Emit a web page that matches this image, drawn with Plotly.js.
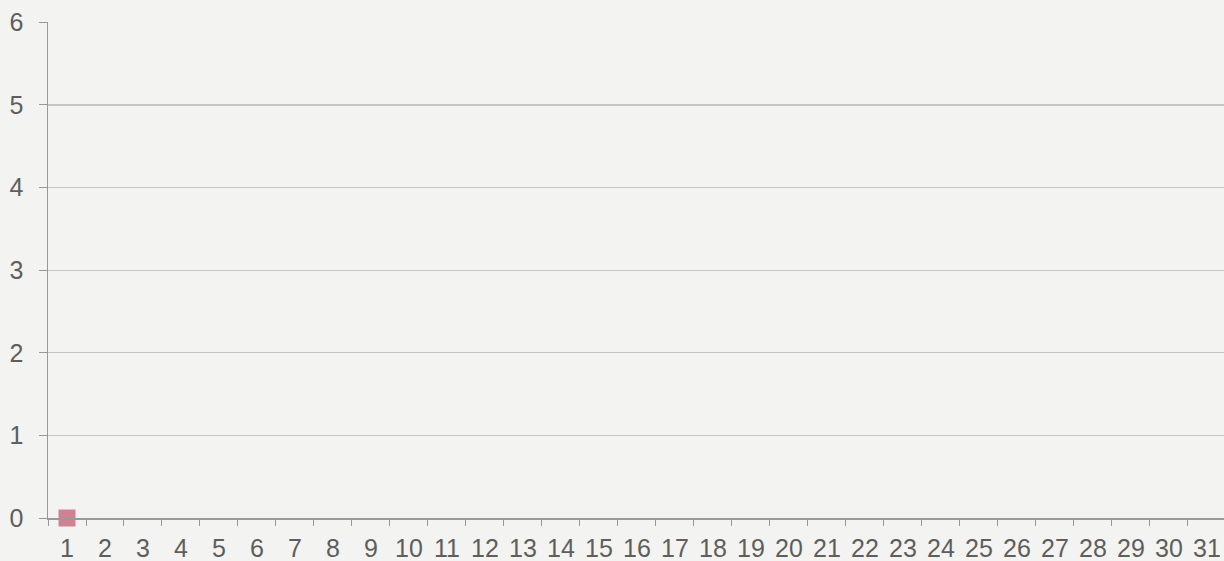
<!DOCTYPE html>
<html>
<head>
<meta charset="utf-8">
<script src="https://cdn.plot.ly/plotly-3.0.1.min.js"></script>
<style>
  html, body { margin: 0; padding: 0; background: #f3f3f1; overflow: hidden; }
  #plot { width: 1224px; height: 561px; }
</style>
</head>
<body>
<div id="plot"></div>
<script>
// days of the month on the x axis
const dagar = Array.from({ length: 31 }, (_, i) => String(i + 1));
const yTicks = [0, 1, 2, 3, 4, 5, 6];

// only one reading in the picture
const punktX = ["1"];
const punktY = [0];

const tickFont = { family: "Liberation Sans Narrow, Arial Narrow, sans-serif", size: 25, color: "#5e5e5e" };

const data = [
  {
    x: punktX,
    y: punktY,
    type: "scatter",
    mode: "markers",
    marker: { symbol: "square", size: 17, color: "#cf8291" },
    cliponaxis: false,
    hoverinfo: "x+y",
  },
];

const layout = {
  width: 1224,
  height: 561,
  margin: { l: 48, r: 0, t: 22, b: 43 },
  paper_bgcolor: "#f3f3f1",
  plot_bgcolor: "#f3f3f1",
  showlegend: false,
  font: tickFont,
  xaxis: {
    type: "category",
    categoryorder: "array",
    categoryarray: dagar,
    tickvals: dagar,
    range: [-0.5, 30.45],
    tickson: "boundaries",
    ticks: "outside",
    ticklen: 6,
    tickcolor: "#999",
    tickfont: tickFont,
    ticklabelstandoff: 7,
    showgrid: false,
    showline: true,
    linecolor: "#999",
    linewidth: 1.5,
    zeroline: false,
    fixedrange: true,
  },
  yaxis: {
    range: [0, 6.004],
    tickvals: yTicks,
    ticks: "outside",
    ticklen: 8,
    tickcolor: "#999",
    tickfont: tickFont,
    showline: true,
    linecolor: "#999",
    linewidth: 1.5,
    gridcolor: "#c4c4c4",
    gridwidth: 1.2,
    zeroline: false,
    ticklabelstandoff: 10,
    fixedrange: true,
  },
};

Plotly.newPlot("plot", data, layout, { displayModeBar: false, staticPlot: true });
</script>
</body>
</html>
